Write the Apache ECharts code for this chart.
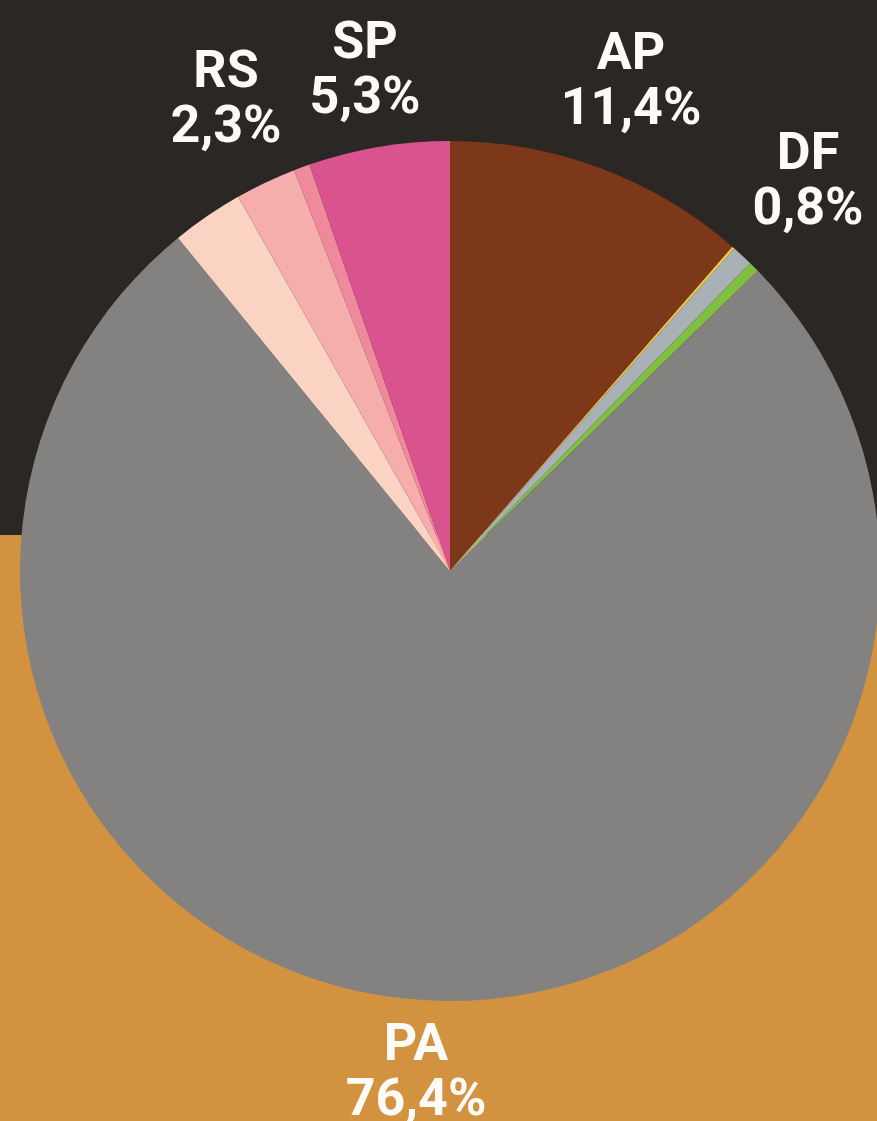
<!DOCTYPE html>
<html>
<head>
<meta charset="utf-8">
<script src="https://cdn.jsdelivr.net/npm/echarts@6/dist/echarts.min.js"></script>
<style>
  html, body { margin: 0; padding: 0; background: #2b2725; }
  #chart { width: 877px; height: 1121px; }
</style>
</head>
<body>
<div id="chart"></div>
<script>
// slices clockwise from 12 o'clock
var names = ['AP', '', 'DF', '', 'PA', '', 'RS', '', 'SP'];
var values = [11.4, 0.1, 0.8, 0.4, 76.4, 2.7, 2.3, 0.6, 5.3];
var pctLabels = ['11,4%', '', '0,8%', '', '76,4%', '', '2,3%', '', '5,3%'];
var colors = ['#7c3818', '#f5c842', '#a9b1b6', '#80bf40', '#838280', '#fad3c3', '#f6aeac', '#ef8a9c', '#d9548f'];

// where each label sits (center of the 2-line block)
var labelPos = {
  AP: [631, 83],
  DF: [808, 183],
  PA: [416, 1074],
  RS: [226, 101],
  SP: [365, 72]
};

var chart = echarts.init(document.getElementById('chart'));

var data = names.map(function (n, i) {
  return {
    name: n,
    value: values[i],
    itemStyle: { color: colors[i] },
    label: { show: n !== '' }
  };
});

var option = {
  backgroundColor: '#2b2725',
  animation: false,
  graphic: [
    // orange lower half of the background
    { type: 'rect', z: -10, shape: { x: 0, y: 535, width: 877, height: 600 }, style: { fill: '#d3923f' } }
  ],
  series: [{
    type: 'pie',
    center: [450, 571],
    radius: 430,
    startAngle: 90,
    clockwise: true,
    avoidLabelOverlap: false,
    data: data,
    itemStyle: { borderWidth: 0 },
    emphasis: { disabled: true },
    labelLine: { show: false },
    label: {
      position: 'outside',
      formatter: function (p) {
        return p.name + '\n' + pctLabels[p.dataIndex];
      },
      color: '#fdfbf7',
      fontFamily: 'Roboto',
      fontWeight: 'bold',
      fontSize: 52,
      lineHeight: 55,
      align: 'center'
    },
    labelLayout: function (params) {
      var n = names[params.dataIndex];
      var p = labelPos[n];
      if (!p) return {};
      return { x: p[0], y: p[1], align: 'center', verticalAlign: 'middle' };
    }
  }]
};

chart.setOption(option);
</script>
</body>
</html>
